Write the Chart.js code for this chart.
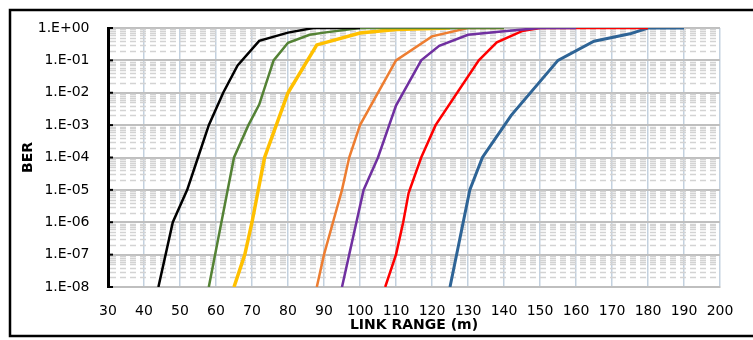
<!DOCTYPE html>
<html>
<head>
<meta charset="utf-8">
<script src="https://cdn.jsdelivr.net/npm/chart.js@4.4.0/dist/chart.umd.min.js"></script>
<style>
  html, body { margin: 0; padding: 0; background: #fff; }
</style>
</head>
<body>
<canvas id="berChart" width="753" height="340"></canvas>
<script>
// link range (m) and BER for each curve
const rangeBlack = [44, 48, 52, 55, 58, 62, 66, 72, 80, 87, 100];
const berBlack = [1e-8, 1e-6, 1e-5, 1e-4, 1e-3, 1e-2, 7e-2, 0.4, 0.72, 1, 1];

const rangeGreen = [58, 61.5, 65, 69, 72, 76, 80, 86, 90, 100, 140];
const berGreen = [1e-8, 1e-6, 1e-4, 1e-3, 4.3e-3, 0.1, 0.35, 0.62, 0.72, 1, 1];

const rangeYellow = [65, 68, 70, 73.5, 80, 88, 100, 110, 125];
const berYellow = [1e-8, 1e-7, 1e-6, 1e-4, 1e-2, 0.3, 0.7, 0.9, 1];

const rangeOrange = [88, 90, 92.5, 95, 97, 100, 110, 120, 130, 140];
const berOrange = [1e-8, 1e-7, 1e-6, 1e-5, 1e-4, 1e-3, 0.1, 0.55, 1, 1];

const rangePurple = [95, 97, 99, 101, 105, 110, 117, 122, 130, 140, 150, 160];
const berPurple = [1e-8, 1e-7, 1e-6, 1e-5, 1e-4, 4e-3, 0.1, 0.28, 0.62, 0.8, 1, 1];

const rangeRed = [107, 110, 112, 113.5, 117, 121, 133, 138, 145, 150, 180];
const berRed = [1e-8, 1e-7, 1e-6, 8e-6, 1e-4, 1e-3, 0.1, 0.36, 0.8, 1, 1];

const rangeBlue = [125, 130.5, 134, 142, 155, 165, 175, 180, 190];
const berBlue = [1e-8, 1e-5, 1e-4, 2e-3, 0.1, 0.39, 0.66, 1, 1];

const xTicks = [30, 40, 50, 60, 70, 80, 90, 100, 110, 120, 130, 140, 150, 160, 170, 180, 190, 200];
const yTicks = [1e-8, 1e-7, 1e-6, 1e-5, 1e-4, 1e-3, 1e-2, 1e-1, 1];

function pts(xs, ys) {
    return xs.map((x, i) => ({ x: x, y: ys[i] }));
}

function series(xs, ys, color, width) {
    return {
        data: pts(xs, ys),
        borderColor: color,
        backgroundColor: color,
        borderWidth: width,
        pointRadius: 0,
        tension: 0,
        fill: false
    };
}

function berLabel(v) {
    const e = Math.round(Math.log10(v));
    const s = Math.abs(e) < 10 ? '0' + Math.abs(e) : '' + Math.abs(e);
    return '1.E' + (e < 0 ? '-' : '+') + s;
}

// minor dashed lines, inward ticks on the y axis and the outer frame
const decorations = {
    id: 'decorations',
    beforeDatasetsDraw(chart) {
        const { ctx, chartArea, scales } = chart;
        ctx.save();
        ctx.strokeStyle = '#d3d3d3';
        ctx.lineWidth = 1.5;
        ctx.setLineDash([6, 4]);
        for (let e = -8; e < 0; e++) {
            for (let k = 2; k <= 9; k++) {
                const y = Math.round(scales.y.getPixelForValue(k * Math.pow(10, e))) + 0.5;
                ctx.beginPath();
                ctx.moveTo(chartArea.left + 2, y);
                ctx.lineTo(chartArea.right, y);
                ctx.stroke();
            }
        }
        ctx.restore();
    },
    afterDraw(chart) {
        const { ctx, chartArea, scales } = chart;
        ctx.save();
        ctx.strokeStyle = '#000';
        ctx.lineWidth = 2;
        yTicks.forEach(v => {
            const y = scales.y.getPixelForValue(v);
            ctx.beginPath();
            ctx.moveTo(chartArea.left, y);
            ctx.lineTo(chartArea.left + 5, y);
            ctx.stroke();
        });
        ctx.lineWidth = 2.5;
        ctx.strokeRect(10, 10, 800, 326);
        ctx.restore();
    }
};

const ctx = document.getElementById('berChart').getContext('2d');
const berChart = new Chart(ctx, {
    type: 'line',
    data: {
        datasets: [
            series(rangeBlack, berBlack, '#000000', 2.5),
            series(rangeGreen, berGreen, '#548235', 2.5),
            series(rangeYellow, berYellow, '#FFC000', 3.5),
            series(rangeOrange, berOrange, '#ED7D31', 2.5),
            series(rangePurple, berPurple, '#7030A0', 2.5),
            series(rangeRed, berRed, '#FF0000', 2.5),
            series(rangeBlue, berBlue, '#2E6496', 3)
        ]
    },
    options: {
        responsive: false,
        animation: false,
        layout: {
            padding: { left: 0, right: 33, top: 28, bottom: 0 }
        },
        scales: {
            x: {
                type: 'linear',
                min: 30,
                max: 200,
                afterBuildTicks: scale => { scale.ticks = xTicks.map(v => ({ value: v })); },
                afterFit: scale => { scale.height = 53; },
                grid: { color: '#c3d1df', lineWidth: 1.5, drawTicks: false },
                border: { color: '#bfbfbf', width: 2 },
                ticks: {
                    color: '#000',
                    padding: 16,
                    maxRotation: 0,
                    font: { family: 'DejaVu Sans', size: 14 }
                },
                title: {
                    display: true,
                    text: 'LINK RANGE (m)',
                    color: '#000',
                    padding: { top: 0, bottom: 6.6 },
                    font: { family: 'DejaVu Sans', size: 14, weight: 'bold' }
                }
            },
            y: {
                type: 'logarithmic',
                min: 1e-8,
                max: 1,
                afterBuildTicks: scale => { scale.ticks = yTicks.map(v => ({ value: v })); },
                afterFit: scale => { scale.width = 108; },
                grid: { color: '#bfbfbf', lineWidth: 2, drawTicks: false },
                border: { color: '#000', width: 3 },
                ticks: {
                    color: '#000',
                    padding: 18.5,
                    font: { family: 'DejaVu Sans', size: 14 },
                    callback: value => berLabel(value)
                },
                title: {
                    display: true,
                    text: 'BER',
                    color: '#000',
                    padding: { top: 19.6, bottom: 0 },
                    font: { family: 'DejaVu Sans', size: 14, weight: 'bold' }
                }
            }
        },
        plugins: {
            legend: { display: false },
            tooltip: { enabled: false }
        }
    },
    plugins: [decorations]
});
</script>
</body>
</html>
